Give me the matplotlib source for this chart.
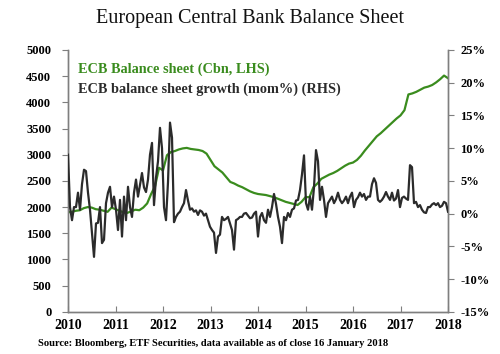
import matplotlib.pyplot as plt
import numpy as np

# ECB balance sheet, EUR bn, monthly Jan 2010 .. Jan 2018
balance = [1900, 1910, 1930, 1940, 1980, 2000, 1990, 1960, 1950, 1930, 1910, 1990,
           1960, 1930, 1900, 1890, 1920, 1950, 1940, 1990, 2070, 2250, 2400, 2750,
           2700, 2990, 3050, 3070, 3100, 3120, 3130, 3110, 3100, 3090, 3070, 3020,
           2900, 2780, 2720, 2660, 2570, 2480, 2450, 2410, 2380, 2340, 2300, 2270,
           2250, 2240, 2230, 2210, 2190, 2160, 2130, 2100, 2080, 2060, 2040, 2100,
           2190, 2190, 2380, 2450, 2540, 2580, 2620, 2650, 2690, 2740, 2790, 2830,
           2850, 2900, 2980, 3080, 3170, 3260, 3350, 3410, 3480, 3550, 3620, 3690,
           3750, 3850, 4150, 4170, 4200, 4240, 4280, 4300, 4330, 4380, 4440, 4510,
           4460]

# balance sheet growth (mom%), roughly semi-monthly 2010 .. 2018
growth = [9.0, 1.0, -1.0, 1.0, 1.0, 3.2, 0.6, 4.5, 6.7, 6.5, 3.2, 0.6,
          -3.0, -6.6, -1.5, -1.4, 1.0, -4.5, -4.0, 1.6, 3.2, 4.1, 1.0, 2.6,
          0.6, -2.5, 2.1, -3.5, 2.6, -1.0, 4.1, 1.0, -0.5, 3.2, 5.2, 2.6,
          4.4, 6.2, 4.0, 3.3, 5.2, 9.0, 10.8, 1.3, 5.5, 8.0, 13.1, 10.0,
          1.0, -1.0, 4.8, 13.9, 11.6, -1.3, -0.5, 0.0, 0.3, 1.0, 1.6, 3.6,
          2.0, 0.6, 0.8, 0.3, 0.5, -0.2, 0.5, 0.3, -0.3, 0.0, -1.0, -2.0,
          -2.5, -2.9, -6.0, -3.5, -3.2, -0.5, -1.0, -0.8, -0.5, -1.5, -2.5, -5.5,
          -1.0, -0.8, -0.5, -0.5, 0.0, 0.1, -0.3, -0.7, -0.6, 0.0, 0.3, -3.5,
          -0.5, 0.1, -1.0, -1.4, 0.6, -0.5, 1.0, 3.0, 1.5, -0.5, -2.0, -4.5,
          -0.5, -1.0, 0.1, -0.5, 0.6, 0.8, 2.0, 2.1, 3.6, 6.0, 8.9, 1.6,
          0.6, 2.6, 0.6, 4.0, 9.7, 8.0, 2.1, 4.1, 2.1, -0.5, 1.6, 2.1,
          2.6, 1.6, 2.2, 3.2, 2.1, 1.6, 2.0, 2.6, 1.6, 2.6, 3.2, 1.0,
          2.1, 2.5, 3.2, 2.6, 3.0, 2.1, 2.6, 2.6, 4.5, 5.4, 4.7, 2.1,
          1.8, 2.1, 2.6, 3.3, 2.6, 2.1, 3.2, 2.0, 2.3, 3.6, 1.0, 2.4,
          2.6, 2.3, 2.1, 7.4, 7.1, 1.6, 1.8, 1.0, 1.3, 0.6, 0.2, 0.1,
          1.0, 1.0, 1.4, 1.6, 1.3, 1.6, 1.0, 1.2, 1.8, 1.6, 0.3]

years = list(range(2010, 2019))
left_ticks = list(range(0, 5001, 500))
right_ticks = list(range(-15, 26, 5))

green = '#3a8c1e'
dark = '#2b2b2b'
axcol = '#7f7f7f'
font = 'Liberation Serif'

t_bal = np.linspace(2010, 2018, len(balance))
t_gr = np.linspace(2010, 2018, len(growth))

fig = plt.figure(figsize=(5, 3.54), dpi=100)
ax = fig.add_axes([0.136, 0.119, 0.76, 0.740])
ax2 = ax.twinx()

ax.plot(t_bal, balance, color=green, lw=1.6, zorder=2)
ax2.plot(t_gr, growth, color=dark, lw=1.6, zorder=3)

ax.set_xlim(2010, 2018)
ax.set_ylim(0, 5000)
ax2.set_ylim(-15, 25)
ax.set_xticks(years)
ax.set_xticklabels([str(y) for y in years], fontsize=10, fontweight='bold', family=font)
ax.set_yticks(left_ticks)
ax.set_yticklabels([str(v) for v in left_ticks], fontsize=9, fontweight='bold', family=font)
ax2.set_yticks(right_ticks)
ax2.set_yticklabels(['%d%%' % v for v in right_ticks], fontsize=9, fontweight='bold', family=font)

for a in (ax, ax2):
    a.spines['top'].set_visible(False)
    for s in ('left', 'right', 'bottom'):
        a.spines[s].set_color(axcol)
        a.spines[s].set_linewidth(1.0)
ax.tick_params(axis='x', direction='in', length=4, color=axcol, pad=5)
ax.tick_params(axis='y', direction='out', length=4, color=axcol, pad=8)
ax2.tick_params(axis='y', direction='out', length=4, color=axcol, pad=5)
ax.set_zorder(ax2.get_zorder() - 1)
ax2.patch.set_visible(False)

ax.text(0.026, 0.925, 'ECB Balance sheet (Cbn, LHS)', transform=ax.transAxes,
        color=green, fontsize=10.3, fontweight='bold', family=font, va='center')
ax.text(0.026, 0.848, 'ECB balance sheet growth (mom%) (RHS)', transform=ax.transAxes,
        color=dark, fontsize=10.3, fontweight='bold', family=font, va='center')

fig.text(0.5, 1 - 18 / 354, 'European Central Bank Balance Sheet', ha='center', va='center',
         fontsize=14.5, family=font, color='#111111')
fig.text(38 / 500, 1 - 343 / 354,
         'Source: Bloomberg, ETF Securities, data available as of close 16 January 2018',
         ha='left', va='center', fontsize=7.6, fontweight='bold', family=font)

fig.savefig('out.png', dpi=100)
